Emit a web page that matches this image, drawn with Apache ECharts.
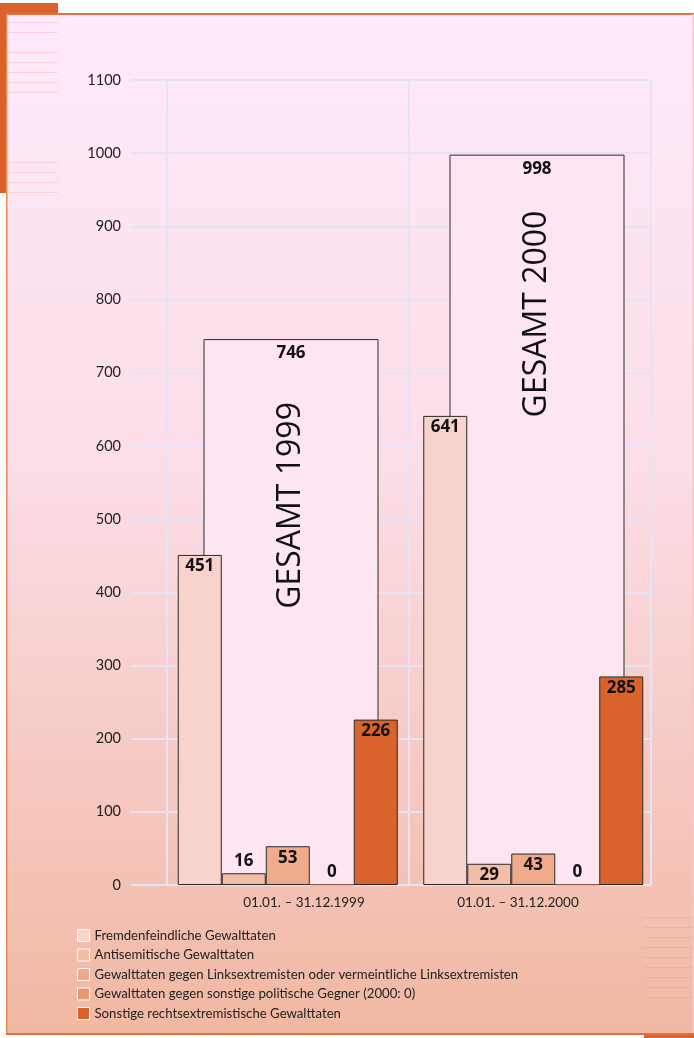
<!DOCTYPE html>
<html>
<head>
<meta charset="utf-8">
<script src="https://cdn.jsdelivr.net/npm/echarts@6/dist/echarts.min.js"></script>
<style>
html,body{margin:0;padding:0;background:#fff;}
#chart{width:694px;height:1038px;}
</style>
</head>
<body>
<div id="chart"></div>
<script>
const categories = ['01.01. – 31.12.1999', '01.01. – 31.12.2000'];
const totalLabels = ['GESAMT 1999', 'GESAMT 2000'];
const totals = [746, 998];
const seriesNames = [
  'Fremdenfeindliche Gewalttaten',
  'Antisemitische Gewalttaten',
  'Gewalttaten gegen Linksextremisten oder vermeintliche Linksextremisten',
  'Gewalttaten gegen sonstige politische Gegner (2000: 0)',
  'Sonstige rechtsextremistische Gewalttaten'
];
const fremdenfeindlich = [451, 641];
const antisemitisch = [16, 29];
const linksextremisten = [53, 43];
const sonstigeGegner = [0, 0];
const sonstigeRechts = [226, 285];
const yMin = 0, yMax = 1100, yInterval = 100;

const seriesValues = [fremdenfeindlich, antisemitisch, linksextremisten, sonstigeGegner, sonstigeRechts];
const colors = ['#f8d3cc', '#f3bea8', '#eeaa8a', '#e8986f', '#d9632b'];
const FONT = "Lato, 'Open Sans', sans-serif";
const BFONT = "'Open Sans', 'Noto Sans', sans-serif";
const GRID_TOP = 80, GRID_BOTTOM = 153;

const chart = echarts.init(document.getElementById('chart'));

const labelStyle = {fontFamily: BFONT, fontWeight: 'bold', fontSize: 17, color: '#111'};

const barSeries = seriesValues.map((vals, si) => ({
  name: seriesNames[si],
  type: 'bar',
  xAxisIndex: 0, yAxisIndex: 0,
  barWidth: 44,
  barGap: '0%',
  z: 3,
  itemStyle: {color: colors[si], borderColor: '#2a2a2a', borderWidth: 1},
  data: vals.map(v => ({
    value: v,
    itemStyle: v === 0 ? {borderColor: 'rgba(230,140,110,0.6)'} : undefined,
    label: (v < 25)
      ? {show: true, position: 'top', distance: 4, ...labelStyle}
      : {show: true, position: 'insideTop', distance: 3, ...labelStyle}
  }))
}));

const gl = {color: '#e6e2f7', width: 2};

const option = {
  animation: false,
  graphic: [
    {type: 'rect', z: -10, silent: true, shape: {x: 6, y: 14, width: 688, height: 1021},
     style: {fill: new echarts.graphic.LinearGradient(0, 0, 0, 1, [
       {offset: 0, color: '#feeafb'}, {offset: 0.45, color: '#fbdde6'}, {offset: 1, color: '#f1b8a2'}])}},
    ...[22,32,52,62,72,82,92,162,172,182,192].map(y => ({type: 'rect', z: -9, silent: true,
      shape: {x: 7, y: y, width: 51, height: 1}, style: {fill: 'rgba(240,170,160,0.35)'}})),
    ...[917,927,937,947,957,967,977,987,997].map(y => ({type: 'rect', z: -9, silent: true,
      shape: {x: 644, y: y, width: 50, height: 1}, style: {fill: 'rgba(220,140,110,0.25)'}})),
    {type: 'rect', z: -8, silent: true, shape: {x: 0, y: 3, width: 58, height: 11}, style: {fill: '#d9632b'}},
    {type: 'rect', z: -8, silent: true, shape: {x: 0, y: 3, width: 6, height: 190}, style: {fill: '#d9632b'}},
    {type: 'rect', z: -8, silent: true, shape: {x: 6, y: 13, width: 688, height: 2}, style: {fill: '#e8703a'}},
    {type: 'rect', z: -8, silent: true, shape: {x: 6, y: 14, width: 1.5, height: 1021}, style: {fill: '#ee8a5c'}},
    {type: 'rect', z: -8, silent: true, shape: {x: 692.5, y: 14, width: 1.5, height: 1021}, style: {fill: '#f6c8c0'}},
    {type: 'rect', z: -8, silent: true, shape: {x: 6, y: 1033, width: 688, height: 2}, style: {fill: '#e07040'}},
    {type: 'rect', z: -8, silent: true, shape: {x: 644, y: 1035, width: 50, height: 3}, style: {fill: '#d9632b'}}
  ],
  grid: [
    {left: 165, right: 38, top: GRID_TOP, bottom: GRID_BOTTOM},   // bars
    {left: 168, right: 34, top: GRID_TOP, bottom: GRID_BOTTOM},   // totals
    {left: 167, right: 43, top: GRID_TOP, bottom: GRID_BOTTOM},   // gridlines + y labels
    {left: 197, right: 69, top: GRID_TOP, bottom: GRID_BOTTOM}    // category labels
  ],
  legend: {
    data: seriesNames,
    orient: 'vertical',
    left: 72, top: 924,
    itemWidth: 12, itemHeight: 12, itemGap: 6.5,
    icon: 'rect',
    itemStyle: {borderColor: '#ffffff', borderWidth: 1},
    textStyle: {fontFamily: FONT, fontSize: 13.2, color: '#222'},
    selectedMode: false
  },
  xAxis: [
    {type: 'category', gridIndex: 0, data: categories, show: false},
    {type: 'category', gridIndex: 1, data: categories, show: false},
    {type: 'category', gridIndex: 2, data: categories,
     axisLine: {show: false}, axisTick: {show: false}, axisLabel: {show: false},
     splitLine: {show: true, interval: 0, lineStyle: gl}},
    {type: 'category', gridIndex: 3, data: categories,
     axisLine: {show: false}, axisTick: {show: false}, splitLine: {show: false},
     axisLabel: {fontFamily: FONT, fontSize: 13.5, color: '#222', margin: 11}}
  ],
  yAxis: [
    {type: 'value', gridIndex: 0, min: yMin, max: yMax, interval: yInterval, show: false, splitLine: {show: false}},
    {type: 'value', gridIndex: 1, min: yMin, max: yMax, interval: yInterval, show: false, splitLine: {show: false}},
    {type: 'value', gridIndex: 2, min: yMin, max: yMax, interval: yInterval,
     axisLine: {show: false},
     axisTick: {show: true, length: 36, lineStyle: gl},
     axisLabel: {fontFamily: FONT, fontSize: 14.5, color: '#222', margin: 46, formatter: v => String(v)},
     splitLine: {show: true, lineStyle: gl}},
    {type: 'value', gridIndex: 3, min: yMin, max: yMax, interval: yInterval, show: false, splitLine: {show: false}}
  ],
  series: [
    {
      name: 'Gesamt', type: 'bar', xAxisIndex: 1, yAxisIndex: 1, barWidth: 175, z: 1,
      itemStyle: {color: '#fde6f2', borderColor: '#2a2a2a', borderWidth: 1},
      label: {show: true, position: 'insideTop', distance: 6, ...labelStyle},
      data: totals
    },
    {
      name: 'GesamtText', type: 'bar', xAxisIndex: 1, yAxisIndex: 1, barWidth: 175, barGap: '-100%', z: 2,
      itemStyle: {color: 'rgba(0,0,0,0)'},
      silent: true,
      data: totals.map((v, i) => ({
        value: v,
        label: {show: true, position: 'insideTop', distance: i === 0 ? 63 : 56,
          rotate: 90, align: 'right', verticalAlign: 'middle',
          fontFamily: BFONT, fontSize: 32, color: '#111',
          formatter: () => totalLabels[i]}
      }))
    },
    ...barSeries
  ]
};
chart.setOption(option);
</script>
</body>
</html>
